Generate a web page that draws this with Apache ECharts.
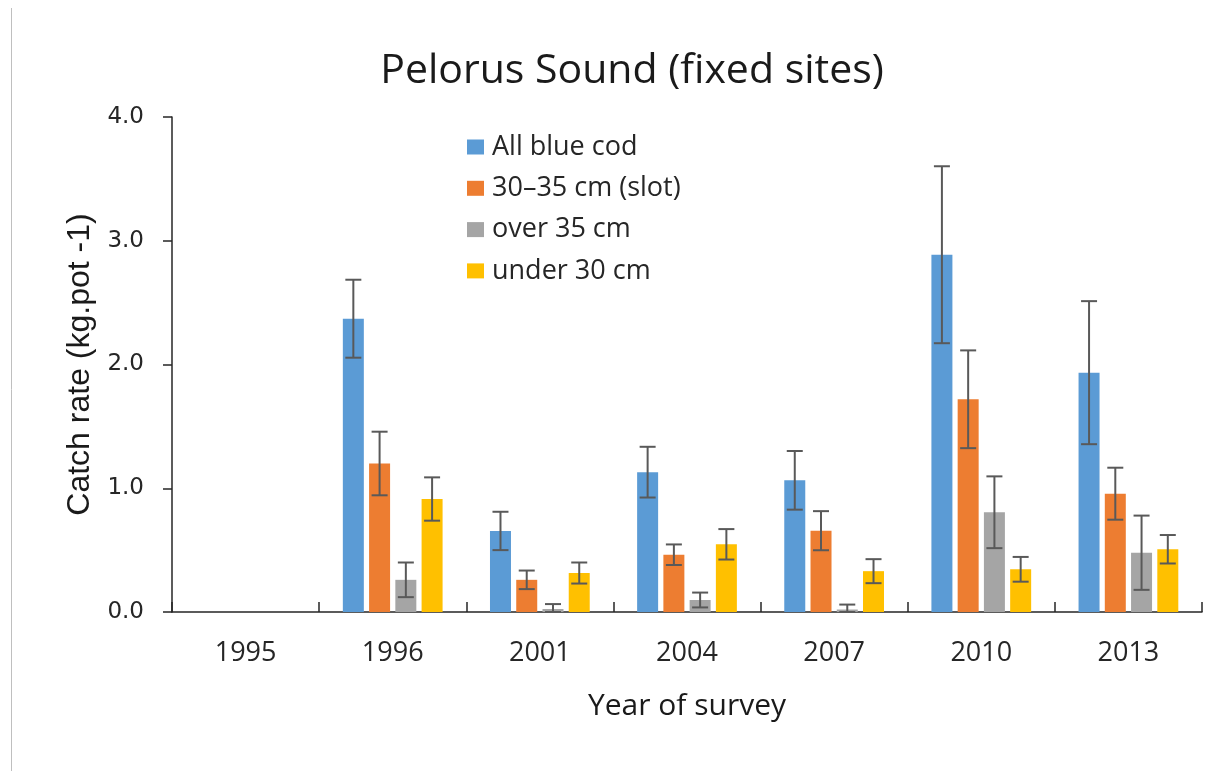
<!DOCTYPE html>
<html>
<head>
<meta charset="utf-8">
<script src="https://cdn.jsdelivr.net/npm/echarts@6/dist/echarts.min.js"></script>
<style>html,body{margin:0;padding:0;background:#fff;}#chart{width:1208px;height:771px;}</style>
</head>
<body>
<div id="chart"></div>
<script>
// ---- data ----
const years = ['1995', '1996', '2001', '2004', '2007', '2010', '2013'];
const seriesNames = ['All blue cod', '30\u201335 cm (slot)', 'over 35 cm', 'under 30 cm'];
const allBlueCod = [null, 2.37, 0.655, 1.13, 1.064, 2.887, 1.934];
const allBlueCodErr = [null, 0.315, 0.155, 0.205, 0.237, 0.715, 0.578];
const slot = [null, 1.20, 0.26, 0.463, 0.657, 1.719, 0.956];
const slotErr = [null, 0.257, 0.075, 0.083, 0.158, 0.395, 0.21];
const over35 = [null, 0.26, 0.024, 0.097, 0.02, 0.806, 0.479];
const over35Err = [null, 0.14, 0.04, 0.06, 0.04, 0.29, 0.30];
const under30 = [null, 0.913, 0.315, 0.547, 0.33, 0.345, 0.507];
const under30Err = [null, 0.175, 0.085, 0.123, 0.097, 0.10, 0.115];
const yTicks = [0, 1, 2, 3, 4];

const colors = ['#5B9BD5', '#ED7D31', '#A5A5A5', '#FFC000'];
const values = [allBlueCod, slot, over35, under30];
const errs = [allBlueCodErr, slotErr, over35Err, under30Err];

const BAR_W = 21;
const GAP = 5.25;

const chart = echarts.init(document.getElementById('chart'));

const barSeries = values.map((v, i) => ({
  name: seriesNames[i],
  type: 'bar',
  data: v,
  barWidth: BAR_W,
  barGap: '25%',
  itemStyle: { color: colors[i] },
  z: 2
}));

const errSeries = values.map((v, i) => ({
  type: 'custom',
  name: 'err' + i,
  z: 5,
  silent: true,
  encode: { x: 0, y: 1 },
  data: v.map((val, k) => val == null ? null : [k, val, errs[i][k]]).filter(d => d),
  renderItem: function (params, api) {
    const k = api.value(0), val = api.value(1), e = api.value(2);
    const top = api.coord([k, val + e]);
    const bot = api.coord([k, Math.max(0, val - e)]);
    const x = top[0] + (i - 1.5) * (BAR_W + GAP);
    const cap = 8;
    const style = { stroke: '#595959', lineWidth: 2, fill: null };
    return {
      type: 'group',
      children: [
        { type: 'line', shape: { x1: x, y1: top[1], x2: x, y2: bot[1] }, style: style },
        { type: 'line', shape: { x1: x - cap, y1: top[1], x2: x + cap, y2: top[1] }, style: style },
        { type: 'line', shape: { x1: x - cap, y1: bot[1], x2: x + cap, y2: bot[1] }, style: style }
      ]
    };
  }
}));

chart.setOption({
  animation: false,
  backgroundColor: '#ffffff',
  title: {
    text: 'Pelorus Sound (fixed sites)',
    left: 627,
    textAlign: 'center',
    top: 46,
    textStyle: { fontFamily: 'Open Sans', fontSize: 41, fontWeight: 'normal', color: '#1a1a1a' }
  },
  legend: {
    data: seriesNames,
    orient: 'vertical',
    left: 462,
    top: 127,
    itemWidth: 17,
    itemHeight: 15,
    itemGap: 11.3,
    icon: 'rect',
    textStyle: { fontFamily: 'Open Sans', fontSize: 27, color: '#262626', lineHeight: 30, padding: [0, 0, 0, 3] }
  },
  graphic: [
    { type: 'line', shape: { x1: 11.5, y1: 8, x2: 11.5, y2: 771 }, style: { stroke: '#bfbfbf', lineWidth: 1 } }
  ],
  grid: { left: 172, right: 6, top: 117, bottom: 159, containLabel: false },
  xAxis: {
    type: 'category',
    data: years,
    name: 'Year of survey',
    nameLocation: 'middle',
    nameGap: 79,
    nameTextStyle: { fontFamily: 'Open Sans', fontSize: 30, color: '#1a1a1a' },
    axisLine: { lineStyle: { color: '#262626', width: 1.5 } },
    axisTick: { show: true, inside: true, length: 10, lineStyle: { color: '#262626', width: 1.5 } },
    axisLabel: { fontFamily: 'Open Sans', fontSize: 27, color: '#262626', margin: 28 },
    splitLine: { show: false }
  },
  yAxis: {
    type: 'value',
    min: yTicks[0],
    max: yTicks[yTicks.length - 1],
    interval: 1,
    name: 'Catch rate (kg.pot -1)',
    nameLocation: 'middle',
    nameRotate: 90,
    nameGap: 72,
    nameTextStyle: { fontFamily: 'Liberation Sans', fontSize: 32, color: '#1a1a1a' },
    axisLine: { show: true, lineStyle: { color: '#262626', width: 1.5 } },
    axisTick: { show: true, inside: false, length: 9, lineStyle: { color: '#262626', width: 1.5 } },
    axisLabel: { fontFamily: 'DejaVu Sans', fontSize: 23, color: '#262626', margin: 28, formatter: v => v.toFixed(1) },
    splitLine: { show: false }
  },
  series: barSeries.concat(errSeries)
});
</script>
</body>
</html>
